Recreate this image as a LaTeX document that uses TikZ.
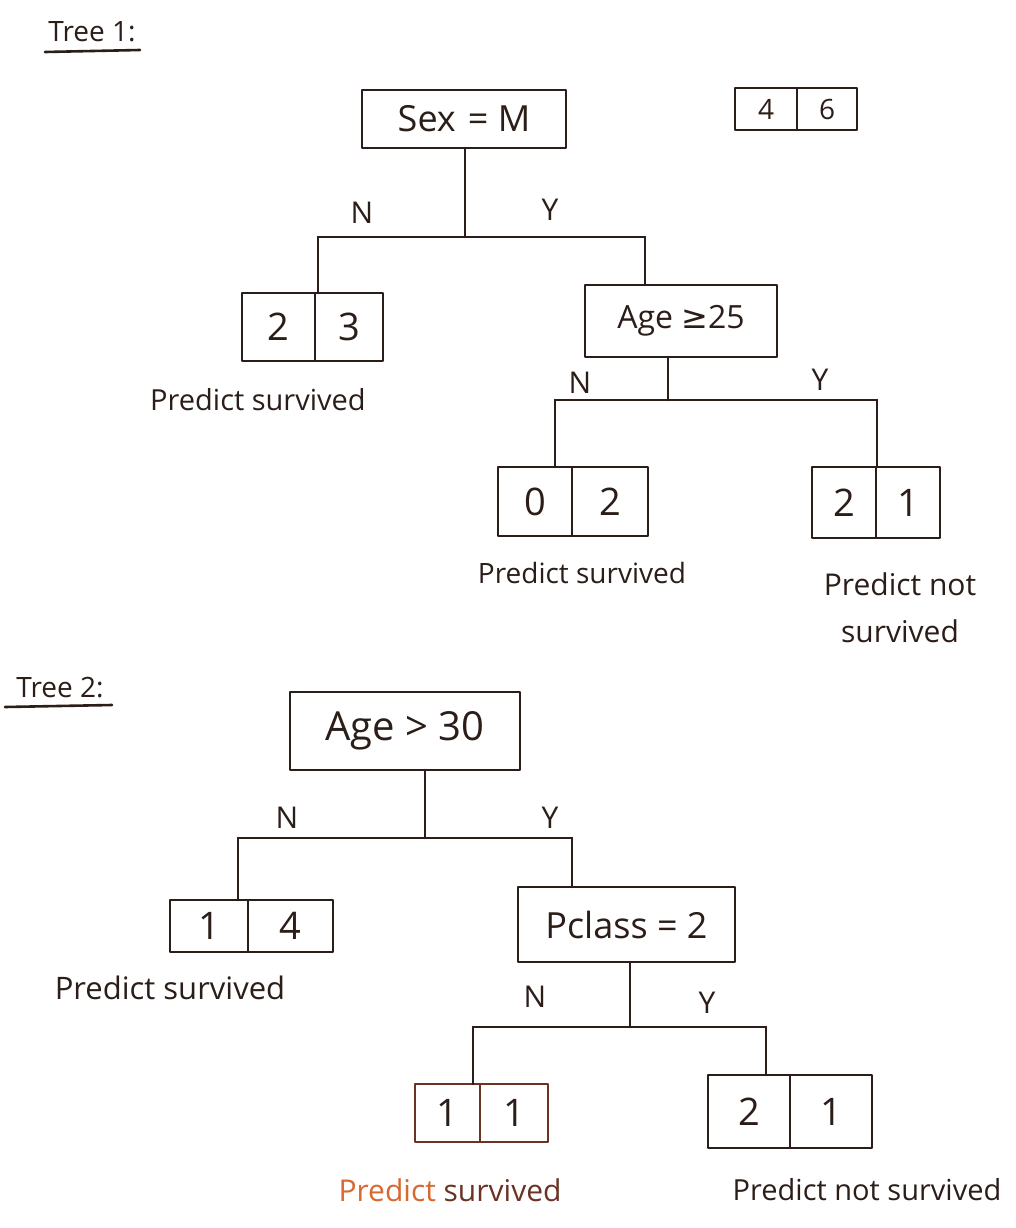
\documentclass[tikz,border=0pt]{standalone}
\usepackage{fontspec}
\setmainfont{Open Sans}
\newfontfamily\symfont{DejaVu Sans}
\definecolor{ink}{HTML}{2B1D18}
\definecolor{brownink}{HTML}{6B3322}
\definecolor{orangeink}{HTML}{D9682E}
\newcommand{\fs}[1]{\fontsize{#1}{#1}\selectfont}
\begin{document}
\begin{tikzpicture}[x=1pt,y=-1pt,
  every path/.style={draw=ink,line width=2.6pt,line join=round,line cap=round},
  box/.style={draw=ink,line width=2.6pt,rectangle,inner sep=0pt,outer sep=0pt,text=ink,
    font=\fs{36}},
  cell/.style={box,font=\fs{38}},
  yn/.style={text=ink,font=\fs{30},inner sep=0pt},
  lbl/.style={text=ink,font=\fontsize{29}{47}\selectfont,inner sep=0pt,align=center},
  ttl/.style={text=ink,font=\fs{28},inner sep=0pt}]
\useasboundingbox[fill=white,draw=none] (0,0) rectangle (1015,1228);

% ---------- Tree 1 ----------
\node[ttl] (t1) at (92,32) {Tree 1:};
\coordinate (u1a) at (45,52); \coordinate (u1b) at (140,50);
\draw (u1a) -- (u1b);

\node[box,minimum width=204pt,minimum height=58pt] (sex) at (464,119) {Sex\,\,= M};

\node[cell,minimum width=62pt,minimum height=42pt,font=\fs{28}] (r46a) at (766,109) {4};
\node[cell,minimum width=60pt,minimum height=42pt,anchor=west,font=\fs{28}] (r46b) at (r46a.east) {6};

\node[cell,minimum width=73pt,minimum height=68pt] (c23a) at (278.5,327) {2};
\node[cell,minimum width=68pt,minimum height=68pt,anchor=west] (c23b) at (c23a.east) {3};
\node[lbl] (p1) at (258,400) {Predict survived};

\node[box,minimum width=192pt,minimum height=72pt,font=\fs{32}] (age25) at (681,321) {Age {\symfont≥}25};

\coordinate (j1) at (465,237);
\coordinate (a1) at (318,237);
\coordinate (b1) at (645,237);
\draw (sex.south -| j1) -- (j1);
\draw (a1) -- (b1);
\draw (a1) -- (a1 |- c23a.north);
\draw (b1) -- (b1 |- age25.north);
\node[yn] (n1) at (362,213) {N};
\node[yn] (y1) at (550,210) {Y};

\node[cell,minimum width=74pt,minimum height=69pt] (c02a) at (535,501.5) {0};
\node[cell,minimum width=76pt,minimum height=69pt,anchor=west] (c02b) at (c02a.east) {2};
\node[lbl,font=\fs{28}] (p2) at (582,573) {Predict survived};

\node[cell,minimum width=64pt,minimum height=71pt] (c21a) at (844,502.5) {2};
\node[cell,minimum width=64pt,minimum height=71pt,anchor=west] (c21b) at (c21a.east) {1};
\node[lbl,font=\fontsize{30}{47}\selectfont] (p3) at (900,608) {Predict not\\survived};

\coordinate (j2) at (668,400);
\coordinate (a2) at (555,400);
\coordinate (b2) at (877,400);
\draw (age25.south -| j2) -- (j2);
\draw (a2) -- (b2);
\draw (a2) -- (a2 |- c02a.north);
\draw (b2) -- (b2 |- c21a.north);
\node[yn] (n2) at (580,383) {N};
\node[yn] (y2) at (820,380) {Y};

% ---------- Tree 2 ----------
\node[ttl] (t2) at (60,688) {Tree 2:};
\coordinate (u2a) at (5,707); \coordinate (u2b) at (112,705);
\draw (u2a) -- (u2b);

\node[box,minimum width=230pt,minimum height=78pt,font=\fs{40}] (age30) at (405,731) {Age > 30};

\node[cell,minimum width=78pt,minimum height=52pt] (c14a) at (209,926) {1};
\node[cell,minimum width=85pt,minimum height=52pt,anchor=west] (c14b) at (c14a.east) {4};
\node[lbl,font=\fs{31}] (p4) at (170,988) {Predict survived};

\node[box,minimum width=217pt,minimum height=75pt] (pcl) at (626.5,924.5) {Pclass = 2};

\coordinate (j3) at (425,838);
\coordinate (a3) at (238,838);
\coordinate (b3) at (572,838);
\draw (age30.south -| j3) -- (j3);
\draw (a3) -- (b3);
\draw (a3) -- (a3 |- c14a.north);
\draw (b3) -- (b3 |- pcl.north);
\node[yn] (n3) at (287,818) {N};
\node[yn] (y3) at (550,818) {Y};

\node[cell,draw=brownink,text=ink,minimum width=65pt,minimum height=58pt] (c11a) at (447.5,1113) {1};
\node[cell,draw=brownink,text=ink,minimum width=68pt,minimum height=58pt,anchor=west] (c11b) at (c11a.east) {1};
\node[lbl,font=\fs{30}] (p5) at (450,1190) {\textcolor{orangeink}{Predict} \textcolor{brownink}{survived}};

\node[cell,minimum width=82pt,minimum height=73pt] (c21c) at (749,1111.5) {2};
\node[cell,minimum width=82pt,minimum height=73pt,anchor=west] (c21d) at (c21c.east) {1};
\node[lbl,font=\fs{29}] (p6) at (867,1190) {Predict not survived};

\coordinate (j4) at (630,1027);
\coordinate (a4) at (473,1027);
\coordinate (b4) at (766,1027);
\draw (pcl.south -| j4) -- (j4);
\draw (a4) -- (b4);
\draw (a4) -- (a4 |- c11a.north);
\draw (b4) -- (b4 |- c21c.north);
\node[yn] (n4) at (535,997) {N};
\node[yn] (y4) at (707,1003) {Y};
\end{tikzpicture}
\end{document}
